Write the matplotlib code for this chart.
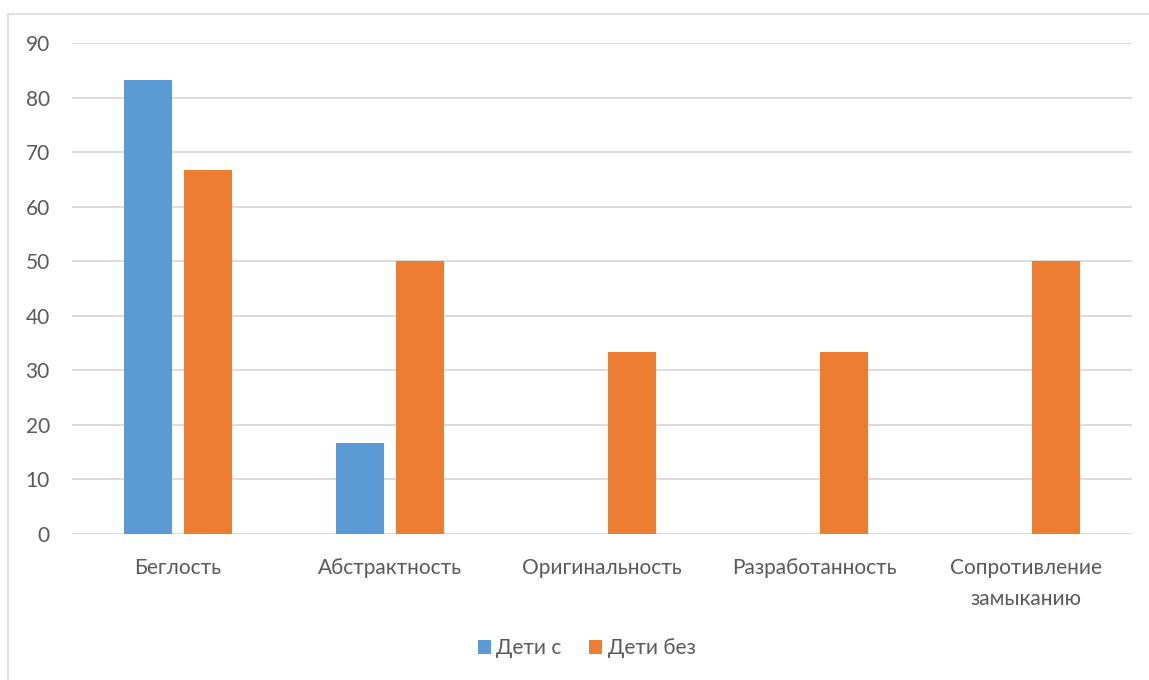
import numpy as np
import matplotlib.pyplot as plt
from matplotlib.patches import Rectangle

categories = ['Беглость', 'Абстрактность', 'Оригинальность', 'Разработанность',
              'Сопротивление\nзамыканию']
series_names = ['Дети с', 'Дети без']
with_values = [83.3, 16.7, 0, 0, 0]
without_values = [66.7, 50, 33.3, 33.3, 50]

BLUE = '#5B9BD5'
ORANGE = '#ED7D31'
TEXT = '#595959'
GRID = '#D9D9D9'
FS = 15

plt.rcParams['font.family'] = ['Lato', 'DejaVu Sans']

W, H = 1149, 680
fig = plt.figure(figsize=(W / 100, H / 100), dpi=100)
ax = fig.add_axes([72 / W, 1 - 534 / H, (1132 - 72) / W, (534 - 43) / H])

# chart frame, cut off at right and bottom
fig.patches.append(Rectangle((8 / W, -0.1), 1.2, 1 - 14 / H + 0.1, transform=fig.transFigure,
                             fill=False, edgecolor=GRID, linewidth=1.2))

x = np.arange(len(categories))
width = 0.226
offset = 0.142
ax.bar(x - offset, with_values, width, color=BLUE, label=series_names[0], zorder=3)
ax.bar(x + offset, without_values, width, color=ORANGE, label=series_names[1], zorder=3)

ax.set_xlim(-0.5, len(categories) - 0.5)
ax.set_ylim(0, 90)
ax.set_yticks(range(0, 91, 10))
ax.yaxis.grid(True, color=GRID, linewidth=1.3)
ax.set_axisbelow(True)
for s in ax.spines.values():
    s.set_visible(False)
ax.axhline(0, color=GRID, linewidth=1.3, zorder=2)

ax.set_xticks(x)
ax.set_xticklabels(categories, color=TEXT, fontsize=FS, va='top', linespacing=1.7)
ax.tick_params(axis='both', length=0, labelsize=FS, labelcolor=TEXT)
ax.tick_params(axis='x', pad=17)
ax.tick_params(axis='y', pad=16)

leg = fig.legend(loc='center', bbox_to_anchor=(0.5 + 12 / W, 1 - 648 / H), ncol=2,
                 frameon=False, fontsize=FS, handlelength=0.65, handleheight=0.65,
                 handletextpad=0.25, columnspacing=1.3)
for t in leg.get_texts():
    t.set_color(TEXT)

fig.savefig('out.png', dpi=100)
